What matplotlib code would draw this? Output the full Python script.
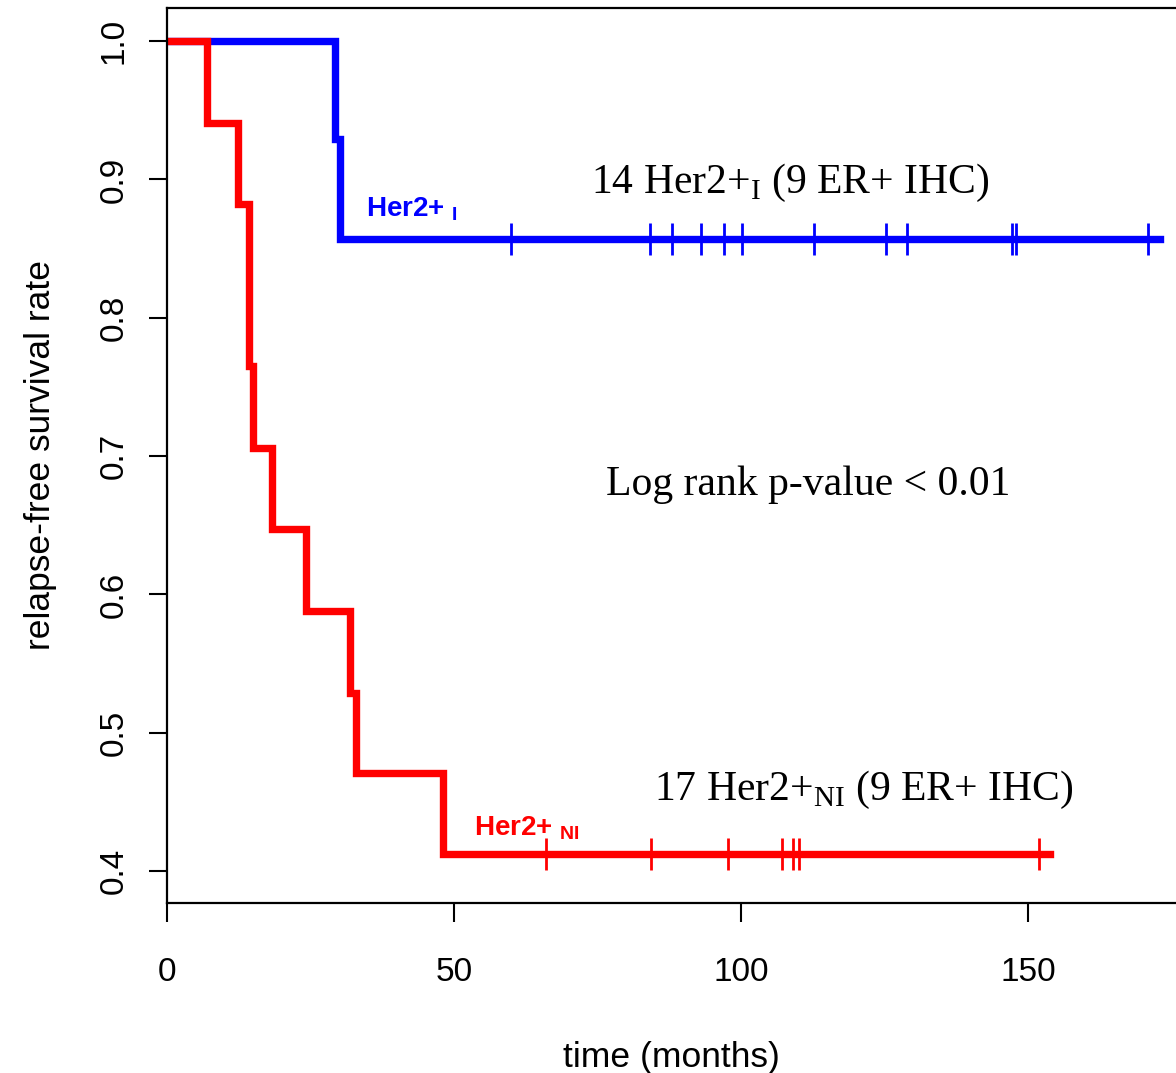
import numpy as np
import matplotlib.pyplot as plt

plt.rcParams['mathtext.fontset'] = 'custom'
plt.rcParams['mathtext.rm'] = 'Liberation Serif'
plt.rcParams['mathtext.sf'] = 'Liberation Sans:bold'

# step curves (time in months, survival rate)
her2_i_times = [0, 29.3, 30.1, 173.0]
her2_i_surv = [1.0, 0.929, 0.857, 0.857]
her2_i_censor = [59.9, 84.2, 88.0, 93.1, 97.1, 100.2, 112.8, 125.2, 129.0, 147.2, 147.9, 171.0]

her2_ni_times = [0, 7.0, 12.4, 14.3, 15.0, 18.3, 24.2, 31.9, 33.0, 48.1, 153.9]
her2_ni_surv = [1.0, 0.941, 0.882, 0.765, 0.706, 0.647, 0.588, 0.529, 0.471, 0.412, 0.412]
her2_ni_censor = [66.0, 84.3, 97.7, 107.1, 109.0, 110.2, 152.0]

x_ticks = [0, 50, 100, 150]
y_ticks = [0.4, 0.5, 0.6, 0.7, 0.8, 0.9, 1.0]

BLUE = '#0000FF'
RED = '#FF0000'

fig = plt.figure(figsize=(11.76, 10.73), dpi=100)
ax = fig.add_axes([167 / 1176, 170 / 1073, 1009 / 1176, 895 / 1073])

# blue first, red is drawn on top of it at 1.0
ax.step(her2_i_times, her2_i_surv, where='post', color=BLUE, lw=5.3, solid_joinstyle='miter')
ax.plot(her2_i_censor, [her2_i_surv[-1]] * len(her2_i_censor), ls='none',
        marker='|', ms=23, mew=2, color=BLUE)

ax.step(her2_ni_times, her2_ni_surv, where='post', color=RED, lw=5.3, solid_joinstyle='miter')
ax.plot(her2_ni_censor, [her2_ni_surv[-1]] * len(her2_ni_censor), ls='none',
        marker='|', ms=23, mew=2, color=RED)

ax.set_xlim(0, 175.8)
ax.set_ylim(0.3769, 1.0239)

ax.set_xticks(x_ticks)
ax.set_xticklabels([str(t) for t in x_ticks], fontsize=24, family='Liberation Sans')
ax.set_yticks(y_ticks)
ax.set_yticklabels(['%.1f' % v for v in y_ticks], fontsize=24, family='Liberation Sans',
                   rotation=90, va='center')
ax.tick_params(axis='x', length=14, width=1.5, pad=25, direction='out')
ax.tick_params(axis='y', length=13, width=1.5, pad=14, direction='out')

for s in ['left', 'top', 'bottom']:
    ax.spines[s].set_linewidth(1.6)
ax.spines['right'].set_visible(False)

ax.set_xlabel('time (months)', fontsize=25.5, family='Liberation Sans', labelpad=38)
ax.set_ylabel('relapse-free survival rate', fontsize=25.5, family='Liberation Sans', labelpad=30)

# curve labels
ax.text(34.7, 0.8735, 'Her2+ $_{\\mathsf{I}}$', color=BLUE, fontsize=20, fontweight='bold',
        family='Liberation Sans', ha='left', va='baseline')
ax.text(53.5, 0.4259, 'Her2+ $_{\\mathsf{NI}}$', color=RED, fontsize=20, fontweight='bold',
        family='Liberation Sans', ha='left', va='baseline')

# annotations
ax.text(108.5, 0.890, '14 Her2+$_{\\mathrm{I}}$ (9 ER+ IHC)', fontsize=30,
        family='Liberation Serif', ha='center', va='baseline')
ax.text(111.7, 0.6717, 'Log rank p-value < 0.01', fontsize=30,
        family='Liberation Serif', ha='center', va='baseline')
ax.text(121.4, 0.4512, '17 Her2+$_{\\mathrm{NI}}$ (9 ER+ IHC)', fontsize=30,
        family='Liberation Serif', ha='center', va='baseline')

fig.savefig('out.png', dpi=100)
